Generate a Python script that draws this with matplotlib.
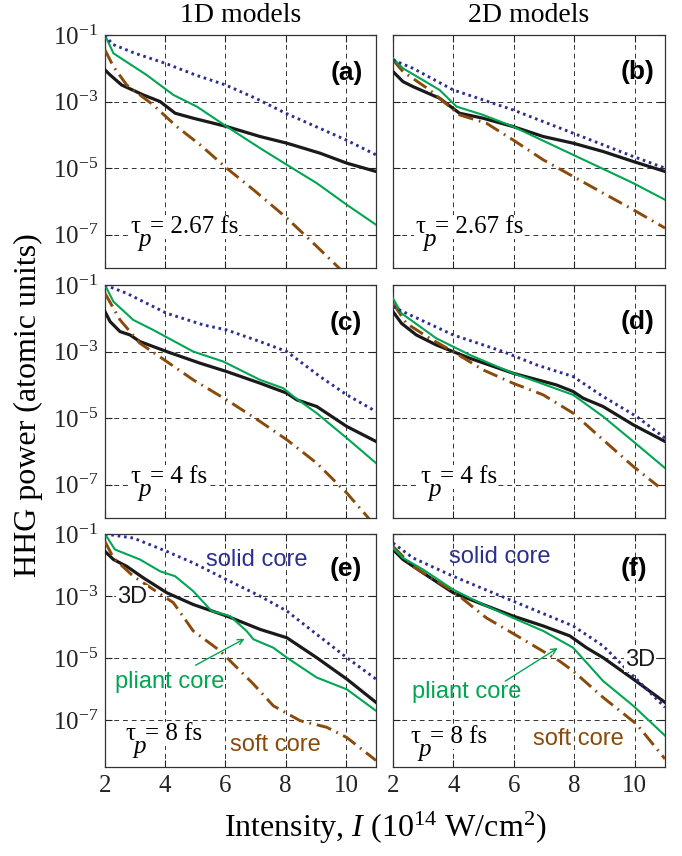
import numpy as np
import matplotlib
matplotlib.use("Agg")
import matplotlib.pyplot as plt
from matplotlib.ticker import FixedLocator, FixedFormatter, NullLocator

plt.rcParams["font.family"] = ["Liberation Serif", "DejaVu Serif"]
plt.rcParams["mathtext.fontset"] = "custom"
plt.rcParams["mathtext.rm"] = "Liberation Serif"
plt.rcParams["mathtext.it"] = "Liberation Serif:italic"
plt.rcParams["mathtext.bf"] = "Liberation Serif:bold"

# ── colours ───────────────────────────────────────────────────────────────────
C_SOLID  = "#2b2f8f"
C_PLIANT = "#00a651"
C_3D     = "#1a1a1a"
C_SOFT   = "#8a4a0a"
SANS = ["Liberation Sans", "DejaVu Sans"]

# ── axis ticks ────────────────────────────────────────────────────────────────
X_TICKS = [2, 4, 6, 8, 10]
X_TICK_LABELS = ["2", "4", "6", "8", "10"]
Y_TICKS = [1e-1, 1e-3, 1e-5, 1e-7]
Y_TICK_LABELS = [r"$10^{-1}$", r"$10^{-3}$", r"$10^{-5}$", r"$10^{-7}$"]
COL_TITLES = ["1D models", "2D models"]
PANEL_TAGS = ["(a)", "(b)", "(c)", "(d)", "(e)", "(f)"]
PULSES = ["2.67", "2.67", "4", "4", "8", "8"]

# ── data: (intensity, log10 HHG power) ────────────────────────────────────────
# (a) 1D, 2.67 fs
a_solid  = ([2, 2.25, 3, 4, 5, 6, 7, 8, 9, 10, 11],
            [-1.0, -1.28, -1.55, -1.85, -2.2, -2.5, -2.9, -3.35, -3.75, -4.15, -4.6])
a_pliant = ([2, 2.28, 3.38, 4.27, 5.05, 6.04, 7.15, 8.04, 9.03, 10.03, 11],
            [-1.0, -1.55, -2.2, -2.8, -3.15, -3.75, -4.4, -4.9, -5.45, -6.1, -6.7])
a_3d     = ([2, 2.17, 2.55, 3.27, 3.83, 4.33, 4.93, 5.6, 6.04, 7.15, 8.04, 9.14, 10.03, 11],
            [-2.05, -2.2, -2.5, -2.8, -3.0, -3.35, -3.5, -3.65, -3.75, -4.05, -4.25, -4.55, -4.85, -5.1])
a_soft   = ([2, 2.28, 2.72, 3.6, 4.38, 5.16, 6.04, 6.93, 8.04, 9.03, 10.0],
            [-1.45, -1.95, -2.5, -3.1, -3.75, -4.3, -5.0, -5.65, -6.5, -7.35, -8.2])
# (b) 2D, 2.67 fs
b_solid  = ([2, 2.66, 3.99, 5.97, 7.96, 9.95, 11],
            [-1.75, -2.0, -2.65, -3.25, -3.95, -4.65, -5.0])
b_pliant = ([2, 2.33, 3.54, 4.1, 4.98, 5.97, 7.96, 9.95, 11],
            [-1.7, -2.0, -2.65, -3.15, -3.4, -3.75, -4.6, -5.45, -5.95])
b_3d     = ([2, 2.33, 2.66, 3.54, 4.2, 4.98, 5.97, 6.97, 7.96, 8.95, 9.95, 11],
            [-2.1, -2.4, -2.55, -2.9, -3.35, -3.5, -3.75, -4.05, -4.25, -4.5, -4.8, -5.1])
b_soft   = ([2, 2.33, 3.21, 4.2, 5.09, 5.97, 6.97, 7.96, 8.95, 9.95, 11],
            [-1.75, -2.1, -2.65, -3.4, -3.65, -4.15, -4.75, -5.25, -5.75, -6.25, -6.8])
# (c) 1D, 4 fs
c_solid  = ([2, 2.72, 4.05, 5.27, 6.04, 7.15, 8.04, 9.14, 10.03, 11],
            [-1.0, -1.25, -1.85, -2.2, -2.35, -2.7, -3.0, -3.75, -4.3, -4.8])
c_pliant = ([2, 2.28, 2.94, 3.6, 4.93, 5.93, 7.15, 7.92, 8.26, 9.03, 10.03, 11],
            [-1.0, -1.5, -2.05, -2.35, -3.0, -3.3, -3.85, -4.1, -4.35, -4.85, -5.6, -6.35])
c_3d     = ([2, 2.17, 2.5, 2.83, 3.16, 4.05, 5.16, 6.04, 7.15, 8.04, 8.37, 9.03, 10.03, 11],
            [-1.8, -2.1, -2.4, -2.5, -2.7, -3.0, -3.35, -3.6, -3.95, -4.25, -4.45, -4.65, -5.25, -5.7])
c_soft   = ([2, 2.5, 3.16, 4.05, 4.93, 6.04, 7.15, 8.04, 9.03, 10.03, 10.75, 11],
            [-1.25, -2.05, -2.75, -3.3, -3.85, -4.45, -5.1, -5.65, -6.35, -7.25, -8.0, -8.3])
# (d) 2D, 4 fs
d_solid  = ([2, 2.33, 3.99, 5.64, 6.75, 7.96, 8.95, 10.06, 11],
            [-1.65, -1.8, -2.5, -3.0, -3.4, -3.75, -4.35, -4.95, -5.6])
d_pliant = ([2, 2.28, 3.43, 4.54, 5.97, 7.96, 8.95, 9.95, 11],
            [-1.4, -1.85, -2.6, -3.1, -3.65, -4.3, -4.95, -5.7, -6.5])
d_3d     = ([2, 2.28, 2.77, 3.43, 4.54, 5.97, 7.4, 7.96, 8.29, 8.95, 9.95, 11],
            [-1.8, -2.15, -2.5, -2.8, -3.2, -3.65, -4.0, -4.2, -4.4, -4.65, -5.2, -5.7])
d_soft   = ([2, 2.44, 3.21, 3.99, 4.98, 5.97, 6.97, 7.96, 8.95, 9.95, 10.78],
            [-1.55, -2.15, -2.6, -3.0, -3.55, -3.95, -4.3, -4.85, -5.65, -6.45, -7.05])
# (e) 1D, 8 fs
e_solid  = ([2, 2.94, 4.05, 4.93, 6.04, 7.15, 8.04, 9.03, 10.03, 11],
            [-1.0, -1.13, -1.56, -1.93, -2.47, -3.0, -3.48, -4.23, -4.98, -5.67])
e_pliant = ([2, 2.33, 3.16, 3.83, 4.33, 4.93, 5.54, 6.15, 6.7, 6.93, 7.59, 8.04, 9.03, 10.03, 11],
            [-1.0, -1.5, -1.82, -2.2, -2.36, -2.84, -3.48, -3.64, -4.12, -4.39, -4.66, -4.98, -5.62, -6.0, -6.69])
e_3d     = ([2, 2.28, 2.72, 3.27, 4.05, 4.93, 6.04, 7.15, 8.04, 9.03, 10.03, 11],
            [-1.56, -1.82, -2.04, -2.41, -2.89, -3.27, -3.64, -4.07, -4.34, -4.98, -5.67, -6.42])
e_soft   = ([2, 2.28, 2.94, 4.27, 4.93, 5.82, 6.93, 7.59, 8.48, 9.36, 10.03, 11],
            [-1.24, -1.77, -2.36, -3.21, -4.12, -4.76, -5.83, -6.53, -7.01, -7.22, -7.55, -8.29])
# (f) 2D, 8 fs
f_solid  = ([2, 2.66, 3.99, 5.97, 7.96, 8.95, 9.95, 11],
            [-1.29, -1.77, -2.36, -3.16, -3.96, -4.6, -5.57, -6.58])
f_pliant = ([2, 2.33, 2.99, 3.99, 4.98, 5.97, 6.97, 7.96, 8.95, 9.95, 11],
            [-1.45, -1.77, -2.14, -2.79, -3.27, -3.7, -4.12, -4.66, -5.73, -6.53, -7.49])
f_3d     = ([2, 2.33, 2.99, 3.99, 4.98, 5.97, 6.97, 7.85, 8.4, 8.95, 9.95, 11],
            [-1.5, -1.82, -2.25, -2.89, -3.27, -3.64, -3.96, -4.28, -4.66, -4.98, -5.67, -6.42])
f_soft   = ([2, 2.66, 3.99, 5.09, 6.3, 7.51, 7.96, 8.95, 10.06, 11],
            [-1.4, -2.04, -2.84, -3.7, -4.39, -5.09, -5.41, -6.26, -7.12, -8.24])

PANELS = [
    (a_solid, a_pliant, a_3d, a_soft),
    (b_solid, b_pliant, b_3d, b_soft),
    (c_solid, c_pliant, c_3d, c_soft),
    (d_solid, d_pliant, d_3d, d_soft),
    (e_solid, e_pliant, e_3d, e_soft),
    (f_solid, f_pliant, f_3d, f_soft),
]
Y_BOTTOM = [1e-8, 1e-8, 1e-8, 1e-8, 10**-8.5, 10**-8.5]

# ── layout (figure pixels: 682 x 856) ─────────────────────────────────────────
W, H = 682, 856
COL_X = [105, 393]
COL_W = [271, 272]
ROW_BOTTOM = [268, 518, 767]
ROW_H = 233

fig = plt.figure(figsize=(W / 100, H / 100), dpi=100, facecolor="white")

TAU_POS = [(0.092, 0.15), (0.081, 0.15), (0.092, 0.15), (0.10, 0.15),
           (0.074, 0.116), (0.063, 0.103)]
TAG_POS = [(0.952, 0.837), (0.963, 0.84), (0.948, 0.837), (0.963, 0.84),
           (0.948, 0.85), (0.934, 0.85)]
WHITE_BOX = dict(facecolor="white", edgecolor="none", pad=0.5)


def pulse_label(ax, pos, dur):
    """tau with a low italic p subscript, then '= dur fs'."""
    tau = ax.text(*pos, r"$\mathrm{\tau}$", transform=ax.transAxes, ha="left",
                  va="baseline", fontsize=18, zorder=6, bbox=WHITE_BOX)
    ax.annotate("= " + dur + " fs", xy=(1, 0), xycoords=tau, xytext=(6, 0),
                textcoords="offset points", ha="left", va="bottom",
                fontsize=18, zorder=6, bbox=WHITE_BOX)
    ax.annotate("p", xy=(1, 0), xycoords=tau, xytext=(-2.0, -9.5),
                textcoords="offset points", ha="left", va="bottom",
                fontsize=18, fontstyle="italic", zorder=7)


axes = []
for k in range(6):
    r, c = divmod(k, 2)
    x0 = COL_X[c] / W
    y0 = 1 - ROW_BOTTOM[r] / H
    ax = fig.add_axes([x0, y0, COL_W[c] / W, ROW_H / H])
    axes.append(ax)
    solid, pliant, d3, soft = PANELS[k]

    ax.plot(d3[0], 10 ** np.array(d3[1]), color=C_3D, lw=2.3, zorder=3)
    ax.plot(soft[0], 10 ** np.array(soft[1]), color=C_SOFT, lw=2.1,
            dashes=(5.2, 2.0, 0.6, 2.0), zorder=3)
    ax.plot(pliant[0], 10 ** np.array(pliant[1]), color=C_PLIANT, lw=1.5, zorder=4)
    ax.plot(solid[0], 10 ** np.array(solid[1]), color=C_SOLID, lw=2.1,
            dashes=(0.9, 1.3), zorder=5)

    ax.set_yscale("log")
    ax.set_xlim(2, 11)
    ax.set_ylim(Y_BOTTOM[k], 1e-1)
    ax.xaxis.set_major_locator(FixedLocator(X_TICKS))
    ax.yaxis.set_major_locator(FixedLocator(Y_TICKS))
    ax.yaxis.set_minor_locator(NullLocator())
    ax.xaxis.set_minor_locator(NullLocator())
    if r == 2:
        ax.xaxis.set_major_formatter(FixedFormatter(X_TICK_LABELS))
    else:
        ax.set_xticklabels([])
    if c == 0:
        ax.yaxis.set_major_formatter(FixedFormatter(Y_TICK_LABELS))
    else:
        ax.set_yticklabels([])
    ax.tick_params(direction="in", top=True, right=True, length=5, width=0.8,
                   labelsize=18, pad=5, colors="#222222")
    ax.tick_params(axis="x", pad=6)
    ax.grid(True, color="#333333", lw=0.7, ls=(0, (5, 4)))
    for s in ax.spines.values():
        s.set_color("#333333")
        s.set_linewidth(0.9)

    ax.text(*TAG_POS[k], PANEL_TAGS[k], transform=ax.transAxes, ha="right",
            va="center", family=SANS, fontweight="bold", fontsize=19, zorder=6)
    pulse_label(ax, TAU_POS[k], PULSES[k])

# ── labels on the 8 fs panels ─────────────────────────────────────────────────
ax_e, ax_f = axes[4], axes[5]
ax_e.text(0.56, 0.89, "solid core", transform=ax_e.transAxes, ha="center",
          va="center", family=SANS, fontsize=17, color=C_SOLID, zorder=6)
ax_e.text(0.10, 0.73, "3D", transform=ax_e.transAxes, ha="center", va="center",
          family=SANS, fontsize=17, color=C_3D, zorder=6,
          bbox=dict(facecolor="white", edgecolor="none", pad=0.5))
ax_e.text(0.24, 0.366, "pliant core", transform=ax_e.transAxes, ha="center",
          va="center", family=SANS, fontsize=17, color=C_PLIANT, zorder=6)
ax_e.text(0.627, 0.095, "soft core", transform=ax_e.transAxes, ha="center",
          va="center", family=SANS, fontsize=17, color=C_SOFT, zorder=6)
ax_e.annotate("", xy=(0.524, 0.556), xytext=(0.325, 0.431),
              xycoords="axes fraction", textcoords="axes fraction",
              arrowprops=dict(arrowstyle="->", color=C_PLIANT, lw=1.0), zorder=6)

ax_f.text(0.393, 0.90, "solid core", transform=ax_f.transAxes, ha="center",
          va="center", family=SANS, fontsize=17, color=C_SOLID, zorder=6)
ax_f.text(0.908, 0.46, "3D", transform=ax_f.transAxes, ha="center", va="center",
          family=SANS, fontsize=17, color=C_3D, zorder=6,
          bbox=dict(facecolor="white", edgecolor="none", pad=0.5))
ax_f.text(0.272, 0.32, "pliant core", transform=ax_f.transAxes, ha="center",
          va="center", family=SANS, fontsize=17, color=C_PLIANT, zorder=6)
ax_f.text(0.68, 0.12, "soft core", transform=ax_f.transAxes, ha="center",
          va="center", family=SANS, fontsize=17, color=C_SOFT, zorder=6)
ax_f.annotate("", xy=(0.614, 0.517), xytext=(0.404, 0.362),
              xycoords="axes fraction", textcoords="axes fraction",
              arrowprops=dict(arrowstyle="->", color=C_PLIANT, lw=1.0), zorder=6)

# ── column titles and axis labels ─────────────────────────────────────────────
for c in range(2):
    fig.text((COL_X[c] + COL_W[c] / 2) / W, 1 - 15 / H, COL_TITLES[c],
             ha="center", va="center", fontsize=20)
fig.text(28 / W, 1 - 405 / H, "HHG power (atomic units)", rotation=90,
         ha="center", va="center", fontsize=23)
fig.text(385 / W, 1 - 828 / H,
         r"Intensity, $\mathit{I}$ (10$^{14}$ W/cm$^{2}$)",
         ha="center", va="center", fontsize=23)

fig.savefig("out.png", dpi=100, facecolor="white")
